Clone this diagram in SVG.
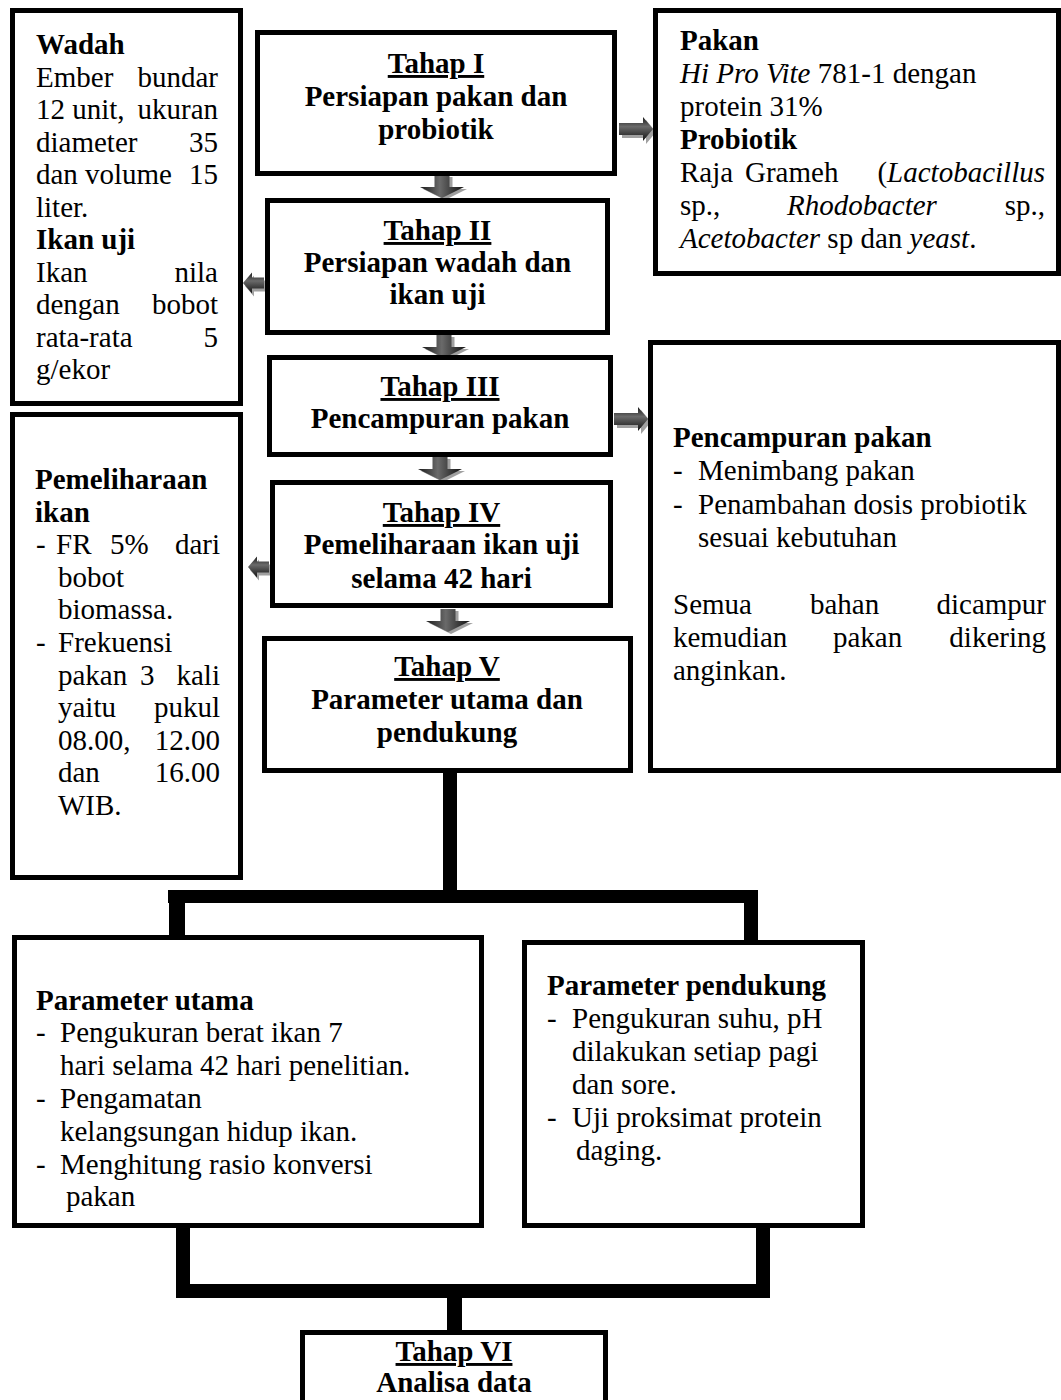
<svg xmlns="http://www.w3.org/2000/svg" width="1061" height="1400" viewBox="0 0 1061 1400" font-family="Liberation Serif, Times New Roman, Times, serif">
<defs>
<linearGradient id="gx" x1="0" y1="0" x2="1" y2="0">
<stop offset="0" stop-color="#1a1a1a"/><stop offset="0.45" stop-color="#6a6a6a"/><stop offset="1" stop-color="#111"/>
</linearGradient>
<linearGradient id="gy" x1="0" y1="0" x2="0" y2="1">
<stop offset="0" stop-color="#1a1a1a"/><stop offset="0.4" stop-color="#6a6a6a"/><stop offset="1" stop-color="#111"/>
</linearGradient>
<path id="ad" d="M-7.5,0 H7.5 V12 H22 L0,23 L-22,12 H-7.5 Z"/>
<path id="ar" d="M0,-6 H24 V-12 L34,0 L24,12 V6 H0 Z"/>
<path id="al" d="M0,-5.5 H-12 V-10.5 L-21,0 L-12,10.5 V5.5 H0 Z"/>
</defs>
<style>
.box{fill:#fff;stroke:#000;stroke-width:5}
.t{font-size:29px;fill:#000}
.b{font-weight:bold}
.i{font-style:italic}
.c{text-anchor:middle;font-weight:bold}
.u{text-decoration:underline}
.e{text-anchor:end}
.m{text-anchor:middle}
.sh{fill:#a0a0a0}
.dn{fill:url(#gx)}
.hz{fill:url(#gy)}
.ln{fill:#000}
</style>
<rect width="1061" height="1400" fill="#fff"/>

<g id="connectors">
<rect class="ln" x="443" y="771" width="14" height="126"/>
<rect class="ln" x="168" y="890" width="590" height="13"/>
<rect class="ln" x="169" y="890" width="16" height="47"/>
<rect class="ln" x="744" y="890" width="14" height="52"/>
<rect class="ln" x="176" y="1226" width="14" height="72"/>
<rect class="ln" x="756" y="1226" width="14" height="72"/>
<rect class="ln" x="176" y="1284" width="594" height="14"/>
<rect class="ln" x="447" y="1284" width="15" height="48"/>
<g id="arrows">
<use href="#ad" class="sh" transform="translate(445,177)"/>
<use href="#ad" class="dn" transform="translate(442,175)"/>
<use href="#ad" class="sh" transform="translate(447,337)"/>
<use href="#ad" class="dn" transform="translate(444,335)"/>
<use href="#ad" class="sh" transform="translate(443,459)"/>
<use href="#ad" class="dn" transform="translate(440,457)"/>
<use href="#ad" class="sh" transform="translate(451,611)"/>
<use href="#ad" class="dn" transform="translate(448,609)"/>
<use href="#ar" class="sh" transform="translate(622,132)"/>
<use href="#ar" class="hz" transform="translate(619,129)"/>
<use href="#ar" class="sh" transform="translate(617,422)"/>
<use href="#ar" class="hz" transform="translate(614,419)"/>
<use href="#al" class="sh" transform="translate(266,286)"/>
<use href="#al" class="hz" transform="translate(264,283)"/>
<use href="#al" class="sh" transform="translate(271,570)"/>
<use href="#al" class="hz" transform="translate(269,567)"/>
</g>
</g>

<g id="wadah">
<rect class="box" x="12.5" y="10.5" width="228" height="393"/>
<text class="t b" x="36" y="54">Wadah</text>
<text class="t" y="86.5"><tspan x="36">Ember</tspan><tspan x="218" class="e">bundar</tspan></text>
<text class="t" y="119"><tspan x="36">12 unit,</tspan><tspan x="218" class="e">ukuran</tspan></text>
<text class="t" y="151.5"><tspan x="36">diameter</tspan><tspan x="218" class="e">35</tspan></text>
<text class="t" y="184"><tspan x="36">dan</tspan><tspan x="85">volume</tspan><tspan x="218" class="e">15</tspan></text>
<text class="t" x="36" y="216.5">liter.</text>
<text class="t b" x="36" y="249">Ikan uji</text>
<text class="t" y="281.5"><tspan x="36">Ikan</tspan><tspan x="218" class="e">nila</tspan></text>
<text class="t" y="314"><tspan x="36">dengan</tspan><tspan x="218" class="e">bobot</tspan></text>
<text class="t" y="346.5"><tspan x="36">rata-rata</tspan><tspan x="218" class="e">5</tspan></text>
<text class="t" x="36" y="379">g/ekor</text>
</g>

<g id="tahap1">
<rect class="box" x="257.5" y="32.5" width="357" height="141"/>
<text class="t c u" x="436" y="73">Tahap I</text>
<text class="t c" x="436" y="105.5">Persiapan pakan dan</text>
<text class="t c" x="436" y="139">probiotik</text>
</g>

<g id="pakan">
<rect class="box" x="655.5" y="10.5" width="403" height="263"/>
<text class="t b" x="680" y="50">Pakan</text>
<text class="t" x="680" y="83"><tspan class="i">Hi Pro Vite</tspan> 781-1 dengan</text>
<text class="t" x="680" y="116">protein 31%</text>
<text class="t b" x="680" y="149">Probiotik</text>
<text class="t" y="182"><tspan x="680">Raja</tspan><tspan x="745">Grameh</tspan><tspan x="1045" class="e">(<tspan class="i">Lactobacillus</tspan></tspan></text>
<text class="t" y="215"><tspan x="680">sp.,</tspan><tspan x="862" class="m i">Rhodobacter</tspan><tspan x="1045" class="e">sp.,</tspan></text>
<text class="t" x="680" y="248"><tspan class="i">Acetobacter</tspan> sp dan <tspan class="i">yeast</tspan>.</text>
</g>

<g id="tahap2">
<rect class="box" x="267.5" y="200.5" width="340" height="132"/>
<text class="t c u" x="437.5" y="240">Tahap II</text>
<text class="t c" x="437.5" y="272">Persiapan wadah dan</text>
<text class="t c" x="437.5" y="304">ikan uji</text>
</g>

<g id="tahap3">
<rect class="box" x="269.5" y="357.5" width="341" height="97"/>
<text class="t c u" x="440" y="396">Tahap III</text>
<text class="t c" x="440" y="428">Pencampuran pakan</text>
</g>

<g id="pencampuran">
<rect class="box" x="650.5" y="342.5" width="408" height="428"/>
<text class="t b" x="673" y="447">Pencampuran pakan</text>
<text class="t" y="480"><tspan x="673">-</tspan><tspan x="698">Menimbang pakan</tspan></text>
<text class="t" y="514"><tspan x="673">-</tspan><tspan x="698">Penambahan dosis probiotik</tspan></text>
<text class="t" x="698" y="547">sesuai kebutuhan</text>
<text class="t" y="614"><tspan x="673">Semua</tspan><tspan x="810">bahan</tspan><tspan x="1046" class="e">dicampur</tspan></text>
<text class="t" y="647"><tspan x="673">kemudian</tspan><tspan x="833">pakan</tspan><tspan x="1046" class="e">dikering</tspan></text>
<text class="t" x="673" y="680">anginkan.</text>
</g>

<g id="pemeliharaan">
<rect class="box" x="12.5" y="414.5" width="228" height="463"/>
<text class="t b" x="35" y="489">Pemeliharaan</text>
<text class="t b" x="35" y="521.6">ikan</text>
<text class="t" y="554.2"><tspan x="36">-</tspan><tspan x="56">FR</tspan><tspan x="110">5%</tspan><tspan x="220" class="e">dari</tspan></text>
<text class="t" x="58" y="586.8">bobot</text>
<text class="t" x="58" y="619.4">biomassa.</text>
<text class="t" y="652"><tspan x="36">-</tspan><tspan x="58">Frekuensi</tspan></text>
<text class="t" y="684.6"><tspan x="58">pakan</tspan><tspan x="140">3</tspan><tspan x="220" class="e">kali</tspan></text>
<text class="t" y="717.2"><tspan x="58">yaitu</tspan><tspan x="220" class="e">pukul</tspan></text>
<text class="t" y="749.8"><tspan x="58">08.00,</tspan><tspan x="220" class="e">12.00</tspan></text>
<text class="t" y="782.4"><tspan x="58">dan</tspan><tspan x="220" class="e">16.00</tspan></text>
<text class="t" x="58" y="815">WIB.</text>
</g>

<g id="tahap4">
<rect class="box" x="272.5" y="482.5" width="338" height="123"/>
<text class="t c u" x="441.5" y="522">Tahap IV</text>
<text class="t c" x="441.5" y="554">Pemeliharaan ikan uji</text>
<text class="t c" x="441.5" y="588">selama 42 hari</text>
</g>

<g id="tahap5">
<rect class="box" x="264.5" y="638.5" width="366" height="132"/>
<text class="t c u" x="447" y="676">Tahap V</text>
<text class="t c" x="447" y="709">Parameter utama dan</text>
<text class="t c" x="447" y="742">pendukung</text>
</g>

<g id="utama">
<rect class="box" x="14.5" y="937.5" width="467" height="288"/>
<text class="t b" x="36" y="1010">Parameter utama</text>
<text class="t" y="1042"><tspan x="36">-</tspan><tspan x="60">Pengukuran berat ikan 7</tspan></text>
<text class="t" x="60" y="1075">hari selama 42 hari penelitian.</text>
<text class="t" y="1108"><tspan x="36">-</tspan><tspan x="60">Pengamatan</tspan></text>
<text class="t" x="60" y="1141">kelangsungan hidup ikan.</text>
<text class="t" y="1174"><tspan x="36">-</tspan><tspan x="60">Menghitung rasio konversi</tspan></text>
<text class="t" x="66" y="1206">pakan</text>
</g>

<g id="pendukung">
<rect class="box" x="524.5" y="942.5" width="338" height="283"/>
<text class="t b" x="547" y="995">Parameter pendukung</text>
<text class="t" y="1028"><tspan x="547">-</tspan><tspan x="572">Pengukuran suhu, pH</tspan></text>
<text class="t" x="572" y="1061">dilakukan setiap pagi</text>
<text class="t" x="572" y="1094">dan sore.</text>
<text class="t" y="1127"><tspan x="547">-</tspan><tspan x="572">Uji proksimat protein</tspan></text>
<text class="t" x="576" y="1160">daging.</text>
</g>

<g id="tahap6">
<rect class="box" x="302.5" y="1332.5" width="303" height="75"/>
<text class="t c u" x="454" y="1361">Tahap VI</text>
<text class="t c" x="454" y="1392">Analisa data</text>
</g>
</svg>
